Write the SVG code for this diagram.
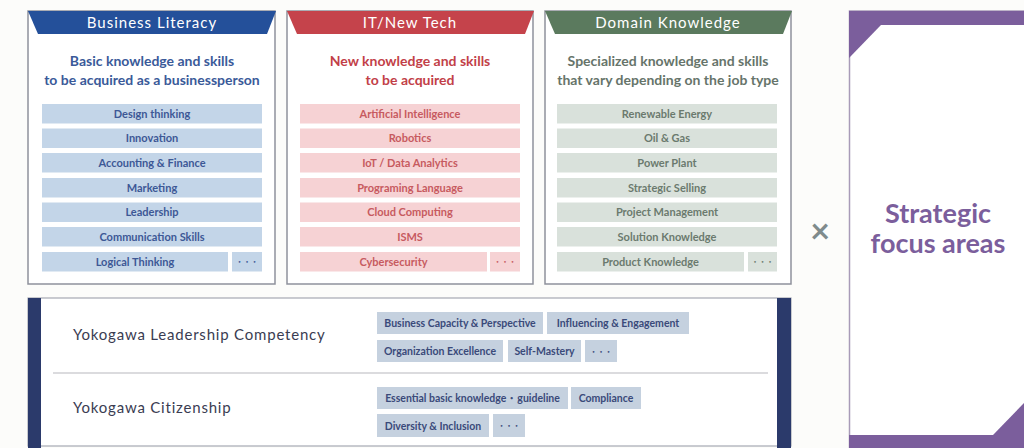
<svg xmlns="http://www.w3.org/2000/svg" width="1024" height="448" viewBox="0 0 1024 448">
<style>
.panel{fill:#ffffff;stroke:#8e919c;stroke-width:1.5}
.hdr{font-family:Lato,"Noto Sans",sans-serif;font-size:15px;fill:#ffffff;text-anchor:middle;letter-spacing:1px}
.sub{font-family:Lato,"Noto Sans",sans-serif;font-size:14px;font-weight:bold;text-anchor:middle}
.it{font-family:Lato,"Noto Sans",sans-serif;font-size:11px;font-weight:bold;text-anchor:middle}
.dots{font-family:"DejaVu Sans",sans-serif;font-size:6px;text-anchor:middle;letter-spacing:1px}
.b .box{fill:#c3d5e8}.b .it,.b .dots{fill:#3d5896}.b .sub{fill:#3a5a99}
.r .box{fill:#f6d2d4}.r .it,.r .dots{fill:#c75a60}.r .sub{fill:#c23f48}
.g .box{fill:#d9e1db}.g .it,.g .dots{fill:#6b7a6e}.g .sub{fill:#66746a}
.tag{fill:#c5d1df}
.tt{font-family:Lato,"Noto Sans",sans-serif;font-size:10.5px;font-weight:bold;fill:#3a4a7a;text-anchor:middle}
.td{font-family:"DejaVu Sans",sans-serif;font-size:6px;fill:#3a4a7a;text-anchor:middle;letter-spacing:1px}
.lbl{font-family:Lato,"Noto Sans",sans-serif;font-size:15px;fill:#3a3c52;letter-spacing:0.8px}
</style>
<rect x="0" y="0" width="1024" height="448" fill="#fcfcfa"/>

<g id="business-literacy" class="b">
<rect class="panel" x="28" y="11" width="247" height="273"/>
<polygon points="28,11 276,11 267,34 38,34" fill="#24509a"/>
<text class="hdr" x="152" y="28">Business Literacy</text>
<text class="sub" x="152" y="66">Basic knowledge and skills</text>
<text class="sub" x="152" y="85">to be acquired as a businessperson</text>
<rect class="box" x="42" y="104" width="220" height="19.5"/><text class="it" x="152" y="117.5">Design thinking</text>
<rect class="box" x="42" y="128.5" width="220" height="19.5"/><text class="it" x="152" y="142">Innovation</text>
<rect class="box" x="42" y="153" width="220" height="19.5"/><text class="it" x="152" y="166.5">Accounting &amp; Finance</text>
<rect class="box" x="42" y="178" width="220" height="19.5"/><text class="it" x="152" y="191.5">Marketing</text>
<rect class="box" x="42" y="202.5" width="220" height="19.5"/><text class="it" x="152" y="216">Leadership</text>
<rect class="box" x="42" y="227" width="220" height="19.5"/><text class="it" x="152" y="240.5">Communication Skills</text>
<rect class="box" x="42" y="252" width="186" height="19.5"/><text class="it" x="135" y="265.5">Logical Thinking</text>
<rect class="box" x="232" y="252" width="30" height="19.5"/><text class="dots" x="247.5" y="264">• • •</text>
</g>

<g id="it-new-tech" class="r">
<rect class="panel" x="287" y="11" width="246" height="273"/>
<polygon points="287,11 534,11 525,34 297,34" fill="#c5434b"/>
<text class="hdr" x="410" y="28">IT/New Tech</text>
<text class="sub" x="410" y="66">New knowledge and skills</text>
<text class="sub" x="410" y="85">to be acquired</text>
<rect class="box" x="300" y="104" width="220" height="19.5"/><text class="it" x="410" y="117.5">Artificial Intelligence</text>
<rect class="box" x="300" y="128.5" width="220" height="19.5"/><text class="it" x="410" y="142">Robotics</text>
<rect class="box" x="300" y="153" width="220" height="19.5"/><text class="it" x="410" y="166.5">IoT / Data Analytics</text>
<rect class="box" x="300" y="178" width="220" height="19.5"/><text class="it" x="410" y="191.5">Programing Language</text>
<rect class="box" x="300" y="202.5" width="220" height="19.5"/><text class="it" x="410" y="216">Cloud Computing</text>
<rect class="box" x="300" y="227" width="220" height="19.5"/><text class="it" x="410" y="240.5">ISMS</text>
<rect class="box" x="300" y="252" width="187" height="19.5"/><text class="it" x="393.5" y="265.5">Cybersecurity</text>
<rect class="box" x="490" y="252" width="30" height="19.5"/><text class="dots" x="505.5" y="264">• • •</text>
</g>

<g id="domain-knowledge" class="g">
<rect class="panel" x="545" y="11" width="246" height="273"/>
<polygon points="545,11 792,11 783,34 555,34" fill="#5b7a5e"/>
<text class="hdr" x="668" y="28">Domain Knowledge</text>
<text class="sub" x="668" y="66">Specialized knowledge and skills</text>
<text class="sub" x="668" y="85">that vary depending on the job type</text>
<rect class="box" x="557" y="104" width="220" height="19.5"/><text class="it" x="667" y="117.5">Renewable Energy</text>
<rect class="box" x="557" y="128.5" width="220" height="19.5"/><text class="it" x="667" y="142">Oil &amp; Gas</text>
<rect class="box" x="557" y="153" width="220" height="19.5"/><text class="it" x="667" y="166.5">Power Plant</text>
<rect class="box" x="557" y="178" width="220" height="19.5"/><text class="it" x="667" y="191.5">Strategic Selling</text>
<rect class="box" x="557" y="202.5" width="220" height="19.5"/><text class="it" x="667" y="216">Project Management</text>
<rect class="box" x="557" y="227" width="220" height="19.5"/><text class="it" x="667" y="240.5">Solution Knowledge</text>
<rect class="box" x="557" y="252" width="187" height="19.5"/><text class="it" x="650.5" y="265.5">Product Knowledge</text>
<rect class="box" x="748" y="252" width="29" height="19.5"/><text class="dots" x="763" y="264">• • •</text>
</g>

<g id="times">
<text x="820" y="243" font-family="Lato,'Noto Sans',sans-serif" font-size="34" font-weight="bold" fill="#7f8b8c" text-anchor="middle">×</text>
</g>

<g id="strategic-focus-areas">
<rect x="849.5" y="11" width="190" height="437" fill="#ffffff" stroke="#a89bb8" stroke-width="1.5"/>
<rect x="849" y="11" width="175" height="14" fill="#7b5e9c"/>
<polygon points="849,25 881,25 849,58" fill="#7b5e9c"/>
<rect x="849" y="435" width="175" height="13" fill="#7b5e9c"/>
<polygon points="993,435 1024,403 1024,435" fill="#7b5e9c"/>
<text x="938" y="223" font-family="Lato,'Noto Sans',sans-serif" font-size="27" font-weight="bold" fill="#7b5e9c" text-anchor="middle">Strategic</text>
<text x="938" y="253" font-family="Lato,'Noto Sans',sans-serif" font-size="27" font-weight="bold" fill="#7b5e9c" text-anchor="middle">focus areas</text>
</g>

<g id="yokogawa-common">
<rect x="28" y="298" width="763" height="148" fill="#ffffff" stroke="#a6a8b2" stroke-width="1.2"/>
<rect x="28" y="298" width="13" height="150" fill="#2b3a6b"/>
<rect x="777" y="298" width="14" height="150" fill="#2b3a6b"/>
<line x1="53" y1="373" x2="768" y2="373" stroke="#cfcfd3" stroke-width="1.5"/>
</g>

<g id="leadership-competency">
<text class="lbl" x="73" y="340">Yokogawa Leadership Competency</text>
<rect class="tag" x="377" y="312" width="166" height="22"/><text class="tt" x="460" y="327">Business Capacity &amp; Perspective</text>
<rect class="tag" x="547" y="312" width="142" height="22"/><text class="tt" x="618" y="327">Influencing &amp; Engagement</text>
<rect class="tag" x="377" y="340" width="126" height="22"/><text class="tt" x="440" y="355">Organization Excellence</text>
<rect class="tag" x="508" y="340" width="73" height="22"/><text class="tt" x="544.5" y="355">Self-Mastery</text>
<rect class="tag" x="585" y="340" width="32" height="22"/><text class="td" x="601.5" y="353.5">• • •</text>
</g>

<g id="citizenship">
<text class="lbl" x="73" y="413">Yokogawa Citizenship</text>
<rect class="tag" x="377" y="387" width="191" height="22"/><text class="tt" x="472.5" y="402">Essential basic knowledge・guideline</text>
<rect class="tag" x="571" y="387" width="70" height="22"/><text class="tt" x="606" y="402">Compliance</text>
<rect class="tag" x="377" y="414" width="112" height="23"/><text class="tt" x="433" y="429.5">Diversity &amp; Inclusion</text>
<rect class="tag" x="493" y="414" width="32" height="23"/><text class="td" x="509.5" y="428">• • •</text>
</g>

<g id="connectors"></g>
</svg>
